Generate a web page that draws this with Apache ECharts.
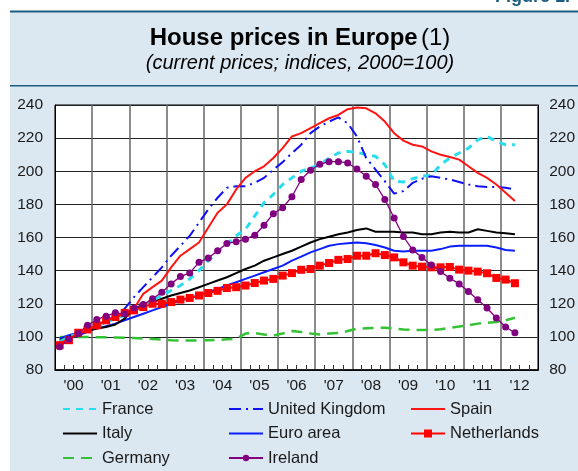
<!DOCTYPE html>
<html>
<head>
<meta charset="utf-8">
<script src="https://cdn.jsdelivr.net/npm/echarts@6/dist/echarts.min.js"></script>
<style>
html,body{margin:0;padding:0;background:#ffffff;}
#chart{width:578px;height:471px;}
</style>
</head>
<body>
<div id="chart"></div>
<script>
// ---- data (quarterly, 2000Q1 .. 2012Q2; indices 2000=100) ----
const startYear = 2000;
const yearLabels = ["'00","'01","'02","'03","'04","'05","'06","'07","'08","'09","'10","'11","'12"];
const france = [97,100,102,104, 106,109,111,113, 116,119,122,125, 128,131,135,140, 146,151,156,161, 165,173,181,186, 192,196,200,202, 204,208,211,212, 211.5,210,209,204, 194,193.5,195.5,197, 197.5,204,208,211, 214,219,221,218, 216,216];
const unitedKingdom = [95,98,101,103, 106,109,113,117, 124,130,136,142, 149,155,161,169, 177,184,190,191, 191,193,196,201, 205.5,211,216,223, 227,230,232.5,229, 221,208,201,194, 186.5,188,193,195.5, 197,196,195,193.5, 192,191,190.5,190.5, 190,189];
const spain = [96,99,102,104, 107,110,112,114, 117,126,130,134, 142,149,153,157, 166,175,180,189, 196,200,203,208, 214,221,223,226, 229,232,234,237.5, 238.5,238,235,230, 223,218.5,216,215, 212,210,208.6,207, 203,199,196,192, 187,182];
const italy = [98,100,102,103.5, 105,106,107.5,111, 117,119,121,123, 125,126.5,128,130, 132,134,136,138.5, 141,143,146,148, 150,152,154.5,157, 159,160.5,162,163, 164.5,165.5,163.5,163.5, 163.5,163,163,162, 162,163,163.5,163, 163,165,164,163, 162.5,162];
const euroArea = [99,101,102.5,104, 105,106.5,108,110, 112,114,116,118, 120,122,123.5,125, 127,129,131,133, 135,137,139,141, 143,146,148.5,151, 153,155,156,156.5, 157,156.5,155.5,154, 152,151.5,152,152, 152,153,154.5,155, 155,155,155,154, 152.5,152];
const netherlands = [95,98,102.5,104.5, 107,110,112,114.5, 116,118,120,120, 121,122.5,123.5,125, 126.5,127.8,129.5,130, 131,132.5,134,135, 137,138.5,140.5,141, 143,144.6,146.5,147, 149,149,150.5,149.4, 148,145,143,142.4, 142,142,142.2,140.6, 140,139.4,138.4,135.6, 134.6,132.4];
const germany = [100,100,100,100, 99.8,99.7,99.6,99.5, 99.3,99,98.7,98.4, 98,97.8,97.8,97.9, 98,98.2,98.5,98.8, 102,102.3,101.5,100.8, 102,103.5,103,102, 101.5,102,102.3,103.5, 105,105.2,105.4,105.5, 105,104.5,104.2,104.1, 104.2,104.6,105.5,106.2, 107,108,108.5,109, 110,111.5];
const ireland = [94,98.5,102,107, 110.5,112.5,114.5,113.8, 117.5,119.5,123,127, 132,136.4,138.6,145, 147.6,152,156.4,157.4, 159,161.4,167.4,174.4, 178,184.6,195,200.6, 204.2,205.8,205.8,205, 201.4,197,192,183, 171.8,160.6,152.4,148, 143.4,139.4,135.4,132, 127.4,122.4,117.4,111.4, 106,102.5];
const yTicks = {min: 80, max: 240, step: 20};

// quarter mid-points on a continuous year scale
function pairs(vals){ return vals.map((v,i)=>[startYear + (i+0.5)/4, v]); }

const chart = echarts.init(document.getElementById('chart'), null, {renderer:'canvas'});
const FONT = '"Liberation Sans", Arial, Helvetica, sans-serif';
const labelStyle = {color:'#1a1a1a', fontSize:15.5, fontFamily:FONT};
const legendText = {color:'#1a1a1a', fontSize:16.5, lineHeight:20, fontFamily:FONT};
const noMark = {opacity:0, borderWidth:0};

function lineSeries(name, data, color, width, dash, extra){
  return Object.assign({
    name, type:'line', data: pairs(data), xAxisIndex:0, yAxisIndex:0,
    symbol:'none', smooth:false, showSymbol:false,
    lineStyle:{color, width, type: dash || 'solid'},
    itemStyle:{color},
    emphasis:{disabled:true}
  }, extra||{});
}

const legendBase = {orient:'vertical', top:399, padding:0, itemWidth:34, itemGap:4.5, textStyle:legendText, selectedMode:false};

const option = {
  animation:false,
  backgroundColor:'#ffffff',
  graphic:[
    {type:'rect', shape:{x:10, y:12, width:568, height:459}, style:{fill:'#dce8f1'}, silent:true, z:-10},
    {type:'rect', shape:{x:10, y:10.5, width:568, height:2}, style:{fill:'#1e5b82'}, silent:true, z:-9},
    {type:'rect', shape:{x:10, y:85, width:568, height:1.5}, style:{fill:'#1e5b82'}, silent:true, z:-9},
    {type:'text', left:495, top:-12, style:{text:'Figure 1.', fill:'#1e5b82', font:'bold 18px '+FONT}, silent:true},
    {type:'text', x:300, y:38, style:{text:'{b|House prices in Europe} {n|(1)}', textAlign:'center', textVerticalAlign:'middle',
      rich:{b:{font:'bold 24px '+FONT, fill:'#000'}, n:{font:'24px '+FONT, fill:'#000'}}}, silent:true},
    {type:'text', x:300, y:63, style:{text:'(current prices; indices, 2000=100)', textAlign:'center', textVerticalAlign:'middle',
      font:'italic 20px '+FONT, fill:'#000'}, silent:true}
  ],
  grid:{left:55, top:105, right:36, bottom:101, show:true, backgroundColor:'#ffffff', borderColor:'#000', borderWidth:1},
  xAxis:[
    {type:'value', min:2000, max:2013, interval:1, position:'bottom',
     axisLine:{show:true, lineStyle:{color:'#000', width:1.5}},
     axisTick:{show:false, inside:true},
     minorTick:{show:true, splitNumber:4, length:5, lineStyle:{color:'#333', width:1}},
     axisLabel:{show:false},
     splitLine:{show:true, lineStyle:{color:'#666', width:1.5}}},
    {type:'category', data:yearLabels, boundaryGap:true, position:'bottom',
     axisLine:{show:false}, axisTick:{show:false}, splitLine:{show:false},
     axisLabel:Object.assign({margin:8, interval:0}, labelStyle)}
  ],
  yAxis:[
    {type:'value', min:yTicks.min, max:yTicks.max, interval:yTicks.step, position:'left',
     axisLine:{show:true, lineStyle:{color:'#000'}}, axisTick:{show:false},
     axisLabel:Object.assign({margin:12}, labelStyle),
     splitLine:{show:true, lineStyle:{color:'#222', width:1}}},
    {type:'value', min:yTicks.min, max:yTicks.max, interval:yTicks.step, position:'right',
     axisLine:{show:true, lineStyle:{color:'#000'}}, axisTick:{show:false},
     axisLabel:Object.assign({margin:11}, labelStyle),
     splitLine:{show:false}}
  ],
  legend:[
    Object.assign({left:62, itemHeight:10,
     data:[{name:'France', itemStyle:noMark},{name:'Italy', itemStyle:noMark},{name:'Germany', itemStyle:noMark}]}, legendBase),
    Object.assign({left:228, itemHeight:8,
     data:[{name:'United Kingdom', itemStyle:noMark},{name:'Euro area', itemStyle:noMark},'Ireland']}, legendBase),
    Object.assign({left:410, itemHeight:10,
     data:[{name:'Spain', itemStyle:noMark},'Netherlands']}, legendBase)
  ],
  series:[
    lineSeries('Germany', germany, '#33c233', 2.5, [11,7]),
    lineSeries('Euro area', euroArea, '#0a1eff', 2),
    lineSeries('Italy', italy, '#000000', 2),
    lineSeries('Netherlands', netherlands, '#ff0000', 2, null, {symbol:'rect', symbolSize:8, showSymbol:true}),
    lineSeries('France', france, '#29dcf0', 3, [7,6]),
    lineSeries('United Kingdom', unitedKingdom, '#1010f5', 2, [12,5,2,5]),
    lineSeries('Spain', spain, '#ff1414', 2),
    lineSeries('Ireland', ireland, '#800080', 1.3, null, {symbol:'circle', symbolSize:7, showSymbol:true})
  ]
};
chart.setOption(option);
</script>
</body>
</html>
